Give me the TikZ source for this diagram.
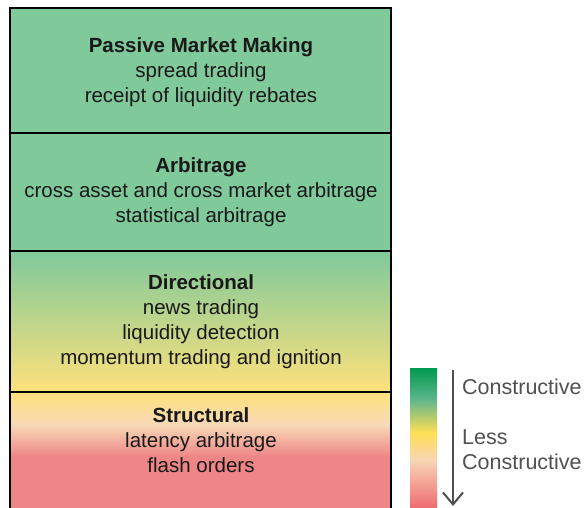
\documentclass[tikz,border=0pt]{standalone}
\usepackage{fontspec}
\setmainfont{Liberation Sans}
\usetikzlibrary{arrows.meta,positioning}

\definecolor{boxgreen}{HTML}{7FC99B}
\definecolor{boxyellow}{HTML}{FEE17B}
\definecolor{boxpeach}{HTML}{F8D9B6}
\definecolor{boxred}{HTML}{EE8587}
\definecolor{legdark}{HTML}{009A4E}
\definecolor{legteal}{HTML}{5CB58C}
\definecolor{legyellow}{HTML}{FFDF55}
\definecolor{legpeach}{HTML}{F9D4B5}
\definecolor{legred}{HTML}{EE6C70}
\definecolor{leggray}{HTML}{505050}

\pgfdeclareverticalshading{structshade}{100bp}{color(0bp)=(boxred); color(47bp)=(boxred); color(61bp)=(boxpeach); color(75bp)=(boxyellow); color(100bp)=(boxyellow)}
\pgfdeclareverticalshading{legendshade}{100bp}{color(0bp)=(legred); color(25bp)=(legred); color(42bp)=(legpeach); color(52bp)=(legyellow); color(64bp)=(legteal); color(75bp)=(legdark); color(100bp)=(legdark)}

\tikzset{
  boxtext/.style={align=center, text=black!90, font=\fontsize{20.5}{25}\selectfont},
  legtext/.style={align=left, anchor=west, inner xsep=0pt, text=leggray, font=\fontsize{21.5}{25}\selectfont},
  boxline/.style={line width=2pt, black}
}

\begin{document}
\begin{tikzpicture}[x=1pt, y=-1pt]
    \useasboundingbox (0,0) rectangle (584,508);

    % Section fills
    \fill [boxgreen] (9.5,8) rectangle (391,251);
    \shade [top color=boxgreen, bottom color=boxyellow] (9.5,251) rectangle (391,392);
    \shade [shading=structshade] (9.5,392) rectangle (391,508);

    % Outline and sections
    \draw [boxline] (9.5,510) -- (9.5,8) -- (391,8) -- (391,510);
    \draw [boxline] (9.5,133) -- (391,133);
    \draw [boxline] (9.5,251) -- (391,251);
    \draw [boxline] (9.5,392) -- (391,392);

    % Labels
    \node (passive) [boxtext] at (201,72) {\textbf{Passive Market Making}\\spread trading\\receipt of liquidity rebates};
    \node (arbitrage) [boxtext] at (201,192) {\textbf{Arbitrage}\\cross asset and cross market arbitrage\\statistical arbitrage};
    \node (directional) [boxtext] at (201,322) {\textbf{Directional}\\news trading\\liquidity detection\\momentum trading and ignition};
    \node (structural) [boxtext] at (201,440) {\textbf{Structural}\\latency arbitrage\\flash orders};

    % Legend
    \shade [shading=legendshade] (410,368) rectangle (437,508);
    \coordinate (arrowtop) at (453,370);
    \coordinate (arrowbot) at (453,506);
    \draw [leggray, line width=2pt, -{Straight Barb[length=12pt, width=20pt, line width=2pt]}] (arrowtop) -- (arrowbot);
    \node (most) [legtext] at (462,387) {Constructive};
    \node (least) [legtext] at (462,449.5) {Less\\Constructive};
\end{tikzpicture}
\end{document}
